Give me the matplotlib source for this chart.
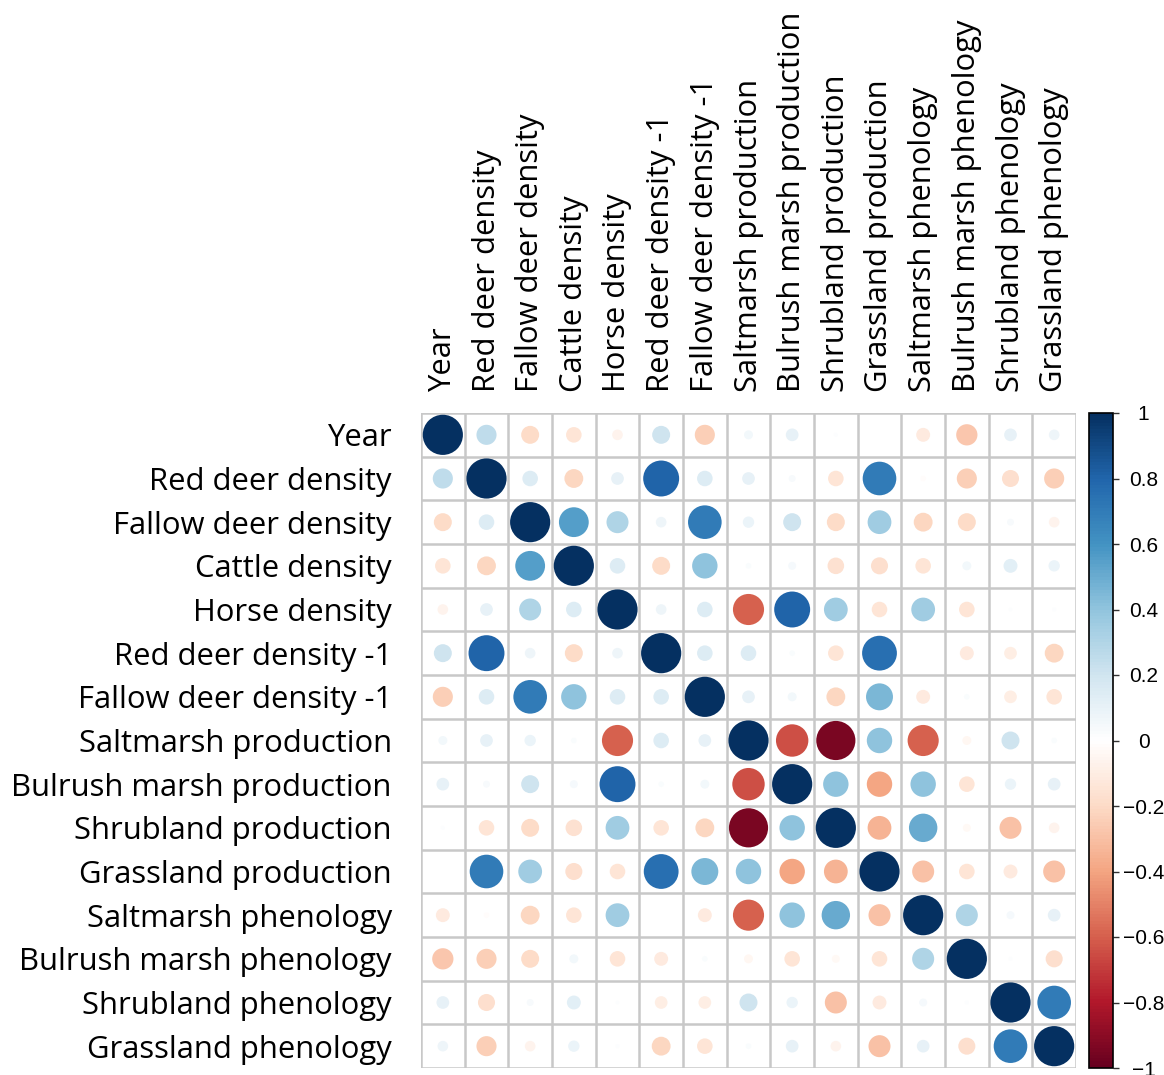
import numpy as np
import matplotlib
matplotlib.use('Agg')
import matplotlib.pyplot as plt
from matplotlib.colors import LinearSegmentedColormap, Normalize
from matplotlib.patches import Circle
from matplotlib.cm import ScalarMappable

plt.rcParams['font.family'] = ['Open Sans', 'DejaVu Sans']

labels = ["Year", "Red deer density", "Fallow deer density", "Cattle density",
          "Horse density", "Red deer density -1", "Fallow deer density -1",
          "Saltmarsh production", "Bulrush marsh production", "Shrubland production",
          "Grassland production", "Saltmarsh phenology", "Bulrush marsh phenology",
          "Shrubland phenology", "Grassland phenology"]

# upper triangle rows, mirrored below
upper = [
    [1, 0.25, -0.20, -0.15, -0.07, 0.20, -0.25, 0.05, 0.10, 0.01, 0.00, -0.12, -0.28, 0.10, 0.07],
    [1, 0.15, -0.22, 0.10, 0.80, 0.15, 0.10, 0.03, -0.15, 0.70, -0.02, -0.25, -0.18, -0.25],
    [1, 0.55, 0.30, 0.07, 0.70, 0.08, 0.20, -0.20, 0.35, -0.22, -0.20, 0.03, -0.07],
    [1, 0.15, -0.20, 0.40, 0.02, 0.04, -0.17, -0.18, -0.15, 0.05, 0.12, 0.08],
    [1, 0.07, 0.15, -0.60, 0.80, 0.35, -0.15, 0.35, -0.15, 0.01, 0.01],
    [1, 0.15, 0.15, 0.02, -0.15, 0.75, 0.00, -0.12, -0.10, -0.22],
    [1, 0.10, 0.05, -0.22, 0.45, -0.12, 0.02, -0.10, -0.15],
    [1, -0.65, -0.95, 0.40, -0.60, -0.05, 0.20, 0.02],
    [1, 0.40, -0.40, 0.40, -0.15, 0.08, 0.10],
    [1, -0.35, 0.50, -0.04, -0.30, -0.07],
    [1, -0.30, -0.15, -0.12, -0.30],
    [1, 0.30, 0.04, 0.10],
    [1, 0.01, -0.18],
    [1, 0.70],
    [1],
]

cbar_ticks = [-1, -0.8, -0.6, -0.4, -0.2, 0, 0.2, 0.4, 0.6, 0.8, 1]
cbar_labels = ['\u22121', '\u22120.8', '\u22120.6', '\u22120.4', '\u22120.2', '0',
               '0.2', '0.4', '0.6', '0.8', '1']

n = len(labels)
corr = np.zeros((n, n))
for i, row in enumerate(upper):
    for k, v in enumerate(row):
        corr[i, i + k] = v
        corr[i + k, i] = v

cols = ["#67001F", "#B2182B", "#D6604D", "#F4A582", "#FDDBC7", "#FFFFFF",
        "#D1E5F0", "#92C5DE", "#4393C3", "#2166AC", "#053061"]
cmap = LinearSegmentedColormap.from_list("rdbu_corr", cols, N=200)
norm = Normalize(-1, 1)

W, H = 1164, 1075
fig = plt.figure(figsize=(W / 100, H / 100), dpi=100)
gx0, gx1, gy0, gy1 = 420, 1077, 413, 1068
ax = fig.add_axes([gx0 / W, 1 - gy1 / H, (gx1 - gx0) / W, (gy1 - gy0) / H])

for i in range(n):
    for j in range(n):
        r = corr[i, j]
        ax.add_patch(Circle((j, i), 0.46 * np.sqrt(abs(r)), facecolor=cmap(norm(r)),
                            edgecolor='none', zorder=2))

for k in range(n + 1):
    ax.axhline(k - 0.5, color='#c8c8c8', lw=1.8, zorder=1)
    ax.axvline(k - 0.5, color='#c8c8c8', lw=1.8, zorder=1)

ax.set_xlim(-0.5, n - 0.5)
ax.set_ylim(n - 0.5, -0.5)
ax.set_aspect('equal')
for s in ax.spines.values():
    s.set_visible(False)

ax.xaxis.tick_top()
ax.set_xticks(range(n))
ax.set_xticklabels(labels, rotation=90, fontsize=22.3)
ax.set_yticks(range(n))
ax.set_yticklabels(labels, fontsize=22.3)
ax.tick_params(axis='x', length=0, pad=15)
ax.tick_params(axis='y', length=0, pad=21)

cax = fig.add_axes([1089 / W, 1 - gy1 / H, 24 / W, (gy1 - gy0) / H])
cb = fig.colorbar(ScalarMappable(norm=norm, cmap=cmap), cax=cax)
cb.ax.set_yticks(cbar_ticks, labels=cbar_labels, fontsize=15,
                 family=['Liberation Sans', 'DejaVu Sans'], ha='center')
cb.ax.tick_params(length=4, width=1.0, pad=18, color='#333333')
cb.outline.set_linewidth(1.2)

fig.savefig('out.png', dpi=100, facecolor='white')
